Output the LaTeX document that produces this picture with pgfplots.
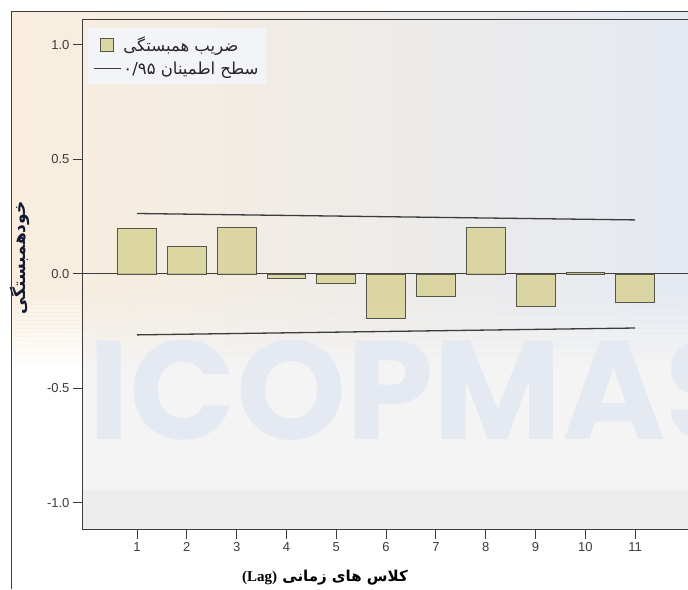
\documentclass[border=0pt]{standalone}
\usepackage{pgfplots}
\pgfplotsset{compat=1.18}
\usepackage{fontspec}
\setmainfont{Liberation Sans}
\newfontfamily\arabicfont[Script=Arabic]{DejaVu Sans}
\newfontfamily\timesfont{Liberation Serif}
\newfontfamily\wmfont{Poppins}
\TeXXeTstate=1
\definecolor{barfill}{RGB}{216,210,150}
\definecolor{edgecol}{RGB}{85,85,75}
\definecolor{axisgray}{RGB}{60,60,60}
\definecolor{labelgray}{RGB}{60,60,60}
\definecolor{beige}{RGB}{249,238,222}
\definecolor{bluegray}{RGB}{228,233,242}
\definecolor{basegray}{RGB}{244,244,244}
\definecolor{stripgray}{RGB}{237,237,237}
\definecolor{wmcol}{RGB}{228,233,242}
\definecolor{legfill}{RGB}{242,244,248}
\begin{document}
\begin{tikzpicture}
\useasboundingbox (0pt,0pt) rectangle (688pt,589pt);
\fill[white] (0pt,0pt) rectangle (688pt,589pt);
\fill[basegray] (82pt,59pt) rectangle (700pt,569pt);
\fill[stripgray] (82pt,59pt) rectangle (700pt,99pt);
\shade[left color=beige, right color=bluegray] (12pt,300pt) rectangle (700pt,577pt);
\foreach \i in {0,...,19} {
  \shade[left color=beige, right color=bluegray, opacity=\i/20] (12pt,220pt+\i*4pt) rectangle (700pt,224.5pt+\i*4pt);
}
\node[anchor=base west, inner sep=0pt, text=wmcol, font=\wmfont\bfseries\fontsize{140}{140}\selectfont] at (88pt,149pt) {ICOPMAS};
\draw[axisgray, line width=1pt] (11.5pt,0pt) -- (11.5pt,577.5pt) -- (700pt,577.5pt);
\begin{axis}[
  at={(82pt,59pt)}, anchor=south west,
  width=612pt, height=510pt, scale only axis,
  xmin=-0.104, xmax=12.18, ymin=-1.118, ymax=1.109,
  xtick={1,2,3,4,5,6,7,8,9,10,11},
  ytick={-1,-0.5,0,0.5,1},
  xtick pos=bottom, ytick pos=left,
  yticklabel style={/pgf/number format/.cd, fixed, fixed zerofill, precision=1},
  /pgf/number format/assume math mode=true,
  tick align=outside, major tick length=9pt,
  tick style={axisgray, line width=1pt},
  tick label style={font=\fontsize{13}{13}\selectfont, text=labelgray},
  axis line style={axisgray, line width=1pt},
  legend style={at={(rel axis cs:0.0098,0.984)}, anchor=north west,
    fill=legfill, draw=none, row sep=5pt, inner xsep=5pt, inner ysep=6pt,
    font=\arabicfont\fontsize{16.5}{16.5}\selectfont, text=black!85},
  legend cell align=left,
]
\addplot[forget plot, axisgray, line width=1pt] coordinates {(-0.104,0) (12.18,0)};
\addplot[ybar, bar width=0.78, fill=barfill, fill opacity=0.85, draw=edgecol, line width=0.9pt,
  legend image code/.code={\path[draw=none, fill=none] (0pt,0pt) -- (27pt,0pt);\draw[fill=barfill, draw=edgecol, line width=0.9pt] (6.5pt,-6.5pt) rectangle (19.5pt,6.5pt);}]
  coordinates {(1,0.200) (2,0.122) (3,0.204) (4,-0.020) (5,-0.041) (6,-0.195) (7,-0.099) (8,0.201) (9,-0.143) (10,0.007) (11,-0.125)};
\addlegendentry{\beginR ضریب همبستگی\endR}
\addplot[axisgray, line width=1.3pt,
  legend image code/.code={\draw[axisgray, line width=1.3pt] (0pt,0pt) -- (27pt,0pt);}]
  coordinates {(1,0.264) (11,0.236)};
\addlegendentry{\beginR سطح اطمینان \beginL ۰/۹۵\endL\endR}
\addplot[forget plot, axisgray, line width=1.3pt] coordinates {(1,-0.266) (11,-0.236)};
\end{axis}
\node[font=\bfseries\fontsize{15}{15}\selectfont, text=black] at (325pt,11pt) {\arabicfont\beginR کلاس های زمانی \beginL{\timesfont (Lag)}\endL\endR};
\node[rotate=90, font=\arabicfont\bfseries\fontsize{17}{17}\selectfont, text={rgb,255:red,20;green,25;blue,50}] at (20pt,331pt) {\beginR خودهمبستگی\endR};
\end{tikzpicture}
\end{document}
